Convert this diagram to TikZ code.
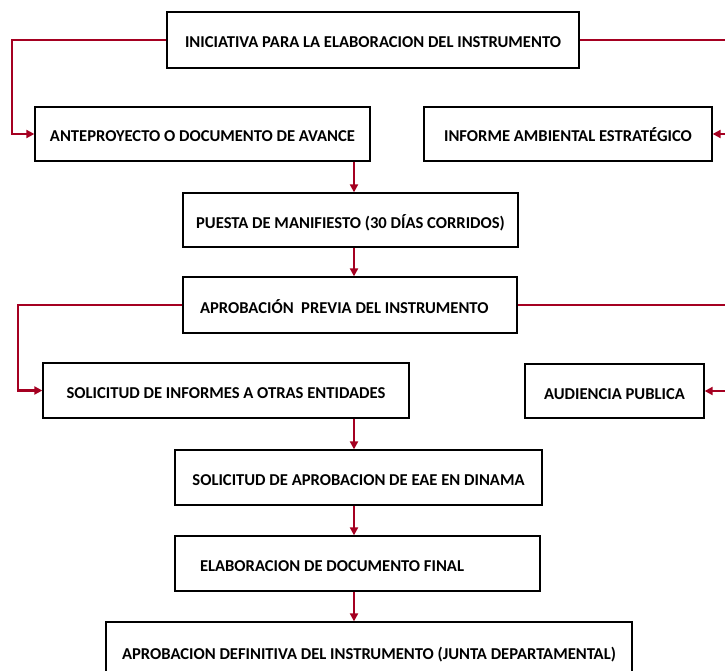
\documentclass[tikz,border=0pt]{standalone}
\usepackage{fontspec}
\setmainfont{Carlito}
\usetikzlibrary{arrows.meta}
\definecolor{procInk}{HTML}{000000}
\definecolor{procRed}{HTML}{A50021}
\tikzset{
  every picture/.style={font=\bfseries\fontsize{16.6}{19}\selectfont, text=procInk},
  proc box/.style={draw=procInk, line width=1.3pt, fill=white, align=center,
    text height=16pt, text depth=0pt},
  proc flow/.style={draw=procRed, line width=2.2pt},
  proc arrow/.style={proc flow, -{Triangle[length=8pt,width=8pt]}}
}
\begin{document}
\begin{tikzpicture}[x=1pt,y=-1pt]
  \useasboundingbox (0,0) rectangle (725,671);
  \clip (0,0) rectangle (725,671);
  \node[proc box, minimum width=412, minimum height=56] (ini) at (373,40) {INICIATIVA PARA LA ELABORACION DEL INSTRUMENTO};
  \node[proc box, minimum width=335, minimum height=54] (ante) at (202.5,134) {ANTEPROYECTO O DOCUMENTO DE AVANCE};
  \node[proc box, minimum width=288, minimum height=54] (iae) at (568,134) {INFORME AMBIENTAL ESTRATÉGICO};
  \node[proc box, minimum width=335, minimum height=54] (puesta) at (350.5,220) {PUESTA DE MANIFIESTO (30 DÍAS CORRIDOS)};
  \node[proc box, minimum width=334, minimum height=56, text width=300, inner xsep=17, align=flush left] (previa) at (350,305) {APROBACIÓN\ \ PREVIA DEL INSTRUMENTO};
  \node[proc box, minimum width=366, minimum height=55] (informes) at (226,390.5) {SOLICITUD DE INFORMES A OTRAS ENTIDADES};
  \node[proc box, minimum width=179, minimum height=54] (audiencia) at (614.5,391) {AUDIENCIA PUBLICA};
  \node[proc box, minimum width=367, minimum height=55] (eae) at (358.5,477.5) {SOLICITUD DE APROBACION DE EAE EN DINAMA};
  \node[proc box, minimum width=365, minimum height=55, text width=315, inner xsep=25, align=flush left] (final) at (357.5,563.5) {ELABORACION DE DOCUMENTO FINAL};
  \node[proc box, minimum width=526, minimum height=58] (junta) at (369,651) {APROBACION DEFINITIVA DEL INSTRUMENTO (JUNTA DEPARTAMENTAL)};

  \coordinate (spine) at (354,0);
  \coordinate (leftA) at (12,0);
  \coordinate (leftB) at (18,0);
  \coordinate (edge) at (735,0);

  % side branches
  \draw[proc arrow] (ini.west) -- (ini.west -| leftA) |- (ante.west);
  \draw[proc flow] (ini.east) -- (ini.east -| edge);
  \draw[proc arrow] (iae.east -| edge) -- (iae.east);
  \draw[proc arrow] (previa.west) -- (previa.west -| leftB) |- (informes.west);
  \draw[proc flow] (previa.east) -- (previa.east -| edge);
  \draw[proc arrow] (audiencia.east -| edge) -- (audiencia.east);

  % main line
  \draw[proc arrow] (ante.south -| spine) -- (puesta.north -| spine);
  \draw[proc arrow] (puesta.south -| spine) -- (previa.north -| spine);
  \draw[proc arrow] (informes.south -| spine) -- (eae.north -| spine);
  \draw[proc arrow] (eae.south -| spine) -- (final.north -| spine);
  \draw[proc arrow] (final.south -| spine) -- (junta.north -| spine);
\end{tikzpicture}
\end{document}
